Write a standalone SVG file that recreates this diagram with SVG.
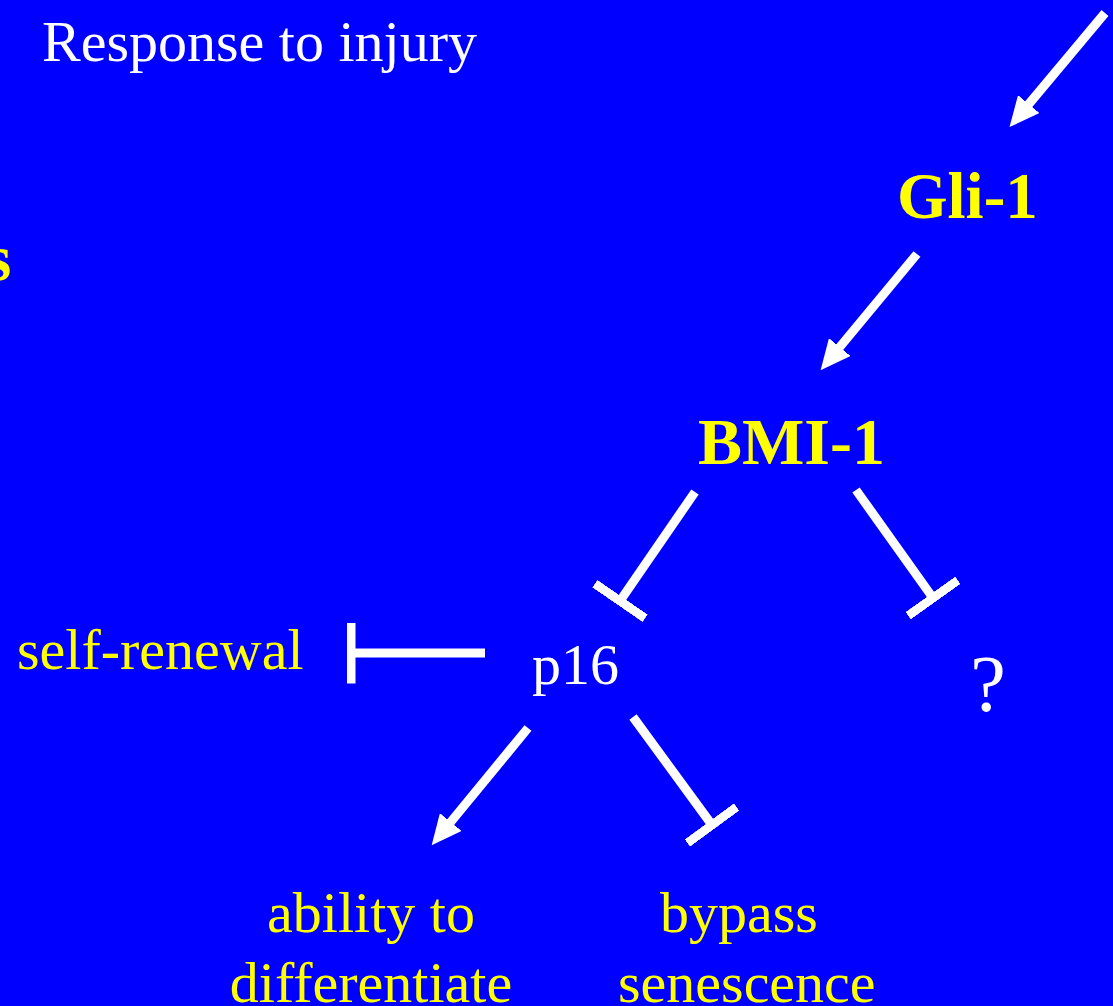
<svg xmlns="http://www.w3.org/2000/svg" width="1113" height="1006" viewBox="0 0 1113 1006">
<style>
.t{font-family:"Liberation Serif","Times New Roman",serif;font-size:58px}
.w{fill:#ffffff}
.y{fill:#ffff00}
.b{font-weight:bold;font-size:65px}
.c{stroke:#ffffff;stroke-width:9;fill:none}
.a{marker-end:url(#arrow)}
.i{marker-end:url(#bar)}
</style>
<defs>
<marker id="arrow" markerUnits="userSpaceOnUse" markerWidth="30" markerHeight="28" viewBox="0 0 30 28" refX="9" refY="14" orient="auto">
<path d="M0,0 L30,14 L0,28 z" fill="#ffffff"/>
</marker>
<marker id="bar" markerUnits="userSpaceOnUse" markerWidth="9" markerHeight="61" viewBox="0 0 9 61" refX="4.5" refY="30.5" orient="auto">
<rect x="0" y="0" width="9" height="61" fill="#ffffff"/>
</marker>
</defs>
<rect x="0" y="0" width="1113" height="1006" fill="#0000ff"/>
<g id="response"><text class="t w" x="42" y="61">Response to injury</text></g>
<g id="fragment"><text class="t y b" x="-14" y="280">s</text></g>
<g id="gli1"><text class="t y b" x="897" y="218">Gli-1</text></g>
<g id="bmi1"><text class="t y b" x="698" y="464" style="font-size:66px">BMI-1</text></g>
<g id="selfrenewal"><text class="t y" x="17" y="669">self-renewal</text></g>
<g id="p16"><text class="t w" x="532" y="684">p16</text></g>
<g id="question"><text class="t w" x="988" y="711" text-anchor="middle" style="font-size:80px">?</text></g>
<g id="ability"><text class="t y" x="371" y="932" text-anchor="middle">ability to</text><text class="t y" x="371" y="1002" text-anchor="middle">differentiate</text></g>
<g id="bypass"><text class="t y" x="660" y="932">bypass</text><text class="t y" x="618" y="1002">senescence</text></g>
<g id="connectors">
<line class="c a" x1="1105" y1="13" x2="1023" y2="111"/>
<line class="c a" x1="917" y1="254" x2="834" y2="354"/>
<line class="c i" x1="695" y1="492" x2="620" y2="601"/>
<line class="c i" x1="856" y1="490" x2="933" y2="598"/>
<line class="c i" x1="485" y1="653" x2="351" y2="653"/>
<line class="c a" x1="528" y1="728" x2="445" y2="829"/>
<line class="c i" x1="633" y1="717" x2="712" y2="825"/>
</g>
</svg>
